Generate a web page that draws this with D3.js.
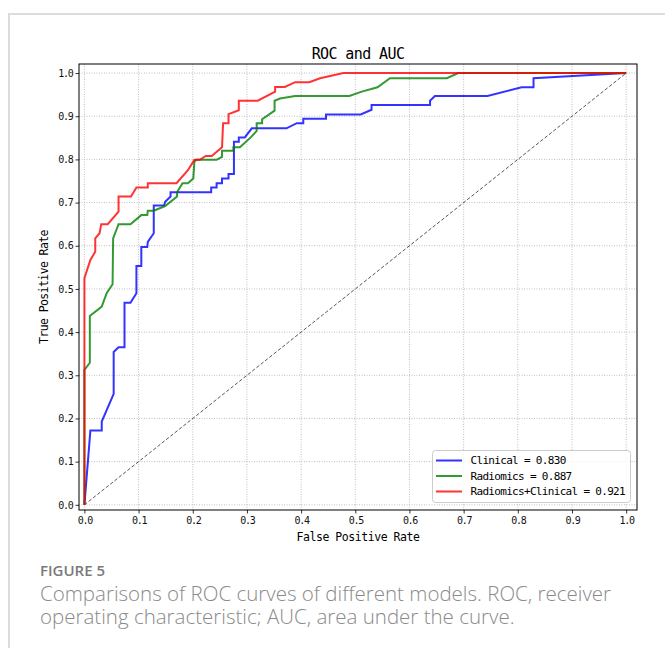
<!DOCTYPE html>
<html>
<head>
<meta charset="utf-8">
<script src="https://cdn.jsdelivr.net/npm/d3@7"></script>
<style>
  body { margin: 0; background: #fff; }
  .mono { font-family: "DejaVu Sans Mono", monospace; }
</style>
</head>
<body>
<svg id="chart" width="665" height="648"></svg>
<script>
// ROC points
const clinicalFpr = [0, 0.011, 0.032, 0.032, 0.054, 0.054, 0.063, 0.074, 0.074, 0.085, 0.096, 0.096, 0.105, 0.105, 0.116, 0.117, 0.128, 0.128, 0.147, 0.149, 0.159, 0.159, 0.234, 0.234, 0.244, 0.244, 0.254, 0.254, 0.266, 0.266, 0.276, 0.276, 0.285, 0.285, 0.296, 0.309, 0.373, 0.392, 0.404, 0.404, 0.446, 0.446, 0.510, 0.530, 0.530, 0.638, 0.638, 0.647, 0.744, 0.807, 0.829, 0.829, 1.0];
const clinicalTpr = [0, 0.172, 0.172, 0.193, 0.257, 0.354, 0.365, 0.365, 0.468, 0.468, 0.490, 0.553, 0.553, 0.597, 0.597, 0.609, 0.629, 0.693, 0.693, 0.702, 0.714, 0.724, 0.724, 0.735, 0.735, 0.745, 0.745, 0.756, 0.756, 0.766, 0.766, 0.841, 0.841, 0.851, 0.851, 0.872, 0.872, 0.884, 0.884, 0.894, 0.894, 0.904, 0.904, 0.915, 0.926, 0.926, 0.936, 0.947, 0.947, 0.967, 0.967, 0.988, 1.0];

const radiomicsFpr = [0, 0, 0.010, 0.010, 0.032, 0.041, 0.052, 0.053, 0.063, 0.085, 0.105, 0.116, 0.117, 0.128, 0.149, 0.171, 0.171, 0.181, 0.191, 0.201, 0.203, 0.207, 0.244, 0.254, 0.254, 0.275, 0.275, 0.287, 0.307, 0.318, 0.318, 0.328, 0.328, 0.351, 0.351, 0.361, 0.389, 0.489, 0.512, 0.541, 0.564, 0.669, 0.690, 1.0];
const radiomicsTpr = [0, 0.3125, 0.329, 0.4375, 0.459, 0.490, 0.511, 0.617, 0.650, 0.650, 0.671, 0.671, 0.681, 0.681, 0.692, 0.714, 0.724, 0.745, 0.745, 0.756, 0.795, 0.799, 0.799, 0.806, 0.820, 0.820, 0.828, 0.828, 0.851, 0.866, 0.884, 0.884, 0.893, 0.913, 0.936, 0.941, 0.947, 0.947, 0.957, 0.967, 0.988, 0.988, 1.0, 1.0];

const combinedFpr = [0, 0, 0.011, 0.020, 0.020, 0.028, 0.031, 0.043, 0.063, 0.063, 0.086, 0.096, 0.117, 0.117, 0.170, 0.191, 0.203, 0.213, 0.224, 0.235, 0.254, 0.256, 0.266, 0.266, 0.285, 0.285, 0.320, 0.352, 0.352, 0.370, 0.389, 0.415, 0.435, 0.478, 1.0];
const combinedTpr = [0, 0.525, 0.567, 0.586, 0.617, 0.629, 0.650, 0.650, 0.679, 0.714, 0.714, 0.735, 0.735, 0.745, 0.745, 0.775, 0.799, 0.799, 0.808, 0.808, 0.828, 0.884, 0.884, 0.905, 0.914, 0.936, 0.936, 0.957, 0.968, 0.968, 0.979, 0.979, 0.988, 1.0, 1.0];

const seriesNames = ["Clinical", "Radiomics", "Radiomics+Clinical"];
const aucValues = [0.830, 0.887, 0.921];
const tickValues = [0, 0.1, 0.2, 0.3, 0.4, 0.5, 0.6, 0.7, 0.8, 0.9, 1.0];

const colors = ["#0000ff", "#008000", "#ff0000"];

const svg = d3.select("#chart");

// card border
svg.append("path")
    .attr("d", "M9,648 V14 H665")
    .attr("fill", "none")
    .attr("stroke", "#dcdcdc")
    .attr("stroke-width", 2);

const plotLeft = 79, plotRight = 637, plotTop = 64, plotBottom = 510;

const x = d3.scaleLinear().domain([-0.01, 1.02]).range([plotLeft, plotRight]);
const y = d3.scaleLinear().domain([-0.012, 1.021]).range([plotBottom, plotTop]);

// grid
const grid = svg.append("g")
    .attr("stroke", "#b8b8b8")
    .attr("stroke-width", 0.9)
    .attr("stroke-dasharray", "1,1.5");
grid.selectAll(".gx").data(tickValues).join("line")
    .attr("x1", d => x(d)).attr("x2", d => x(d))
    .attr("y1", plotTop).attr("y2", plotBottom);
grid.selectAll(".gy").data(tickValues).join("line")
    .attr("y1", d => y(d)).attr("y2", d => y(d))
    .attr("x1", plotLeft).attr("x2", plotRight);

// chance diagonal
svg.append("line")
    .attr("x1", x(0)).attr("y1", y(0))
    .attr("x2", x(1)).attr("y2", y(1))
    .attr("stroke", "#444")
    .attr("stroke-width", 0.9)
    .attr("stroke-dasharray", "3.5,2");

const line = d3.line().x(d => x(d[0])).y(d => y(d[1]));

const series = [
    d3.zip(clinicalFpr, clinicalTpr),
    d3.zip(radiomicsFpr, radiomicsTpr),
    d3.zip(combinedFpr, combinedTpr)
];

svg.append("g").selectAll("path")
    .data(series)
    .join("path")
    .attr("d", line)
    .attr("fill", "none")
    .attr("stroke", (d, i) => colors[i])
    .attr("stroke-opacity", 0.8)
    .attr("stroke-width", 2)
    .attr("stroke-linejoin", "miter");

// frame
svg.append("rect")
    .attr("x", plotLeft).attr("y", plotTop)
    .attr("width", plotRight - plotLeft).attr("height", plotBottom - plotTop)
    .attr("fill", "none")
    .attr("stroke", "#000")
    .attr("stroke-width", 1);

const fmt = d3.format(".1f");

svg.append("g")
    .attr("transform", `translate(0,${plotBottom})`)
    .call(d3.axisBottom(x).tickValues(tickValues).tickFormat(fmt).tickSize(3.5).tickPadding(3))
    .call(g => g.select(".domain").remove());

svg.append("g")
    .attr("transform", `translate(${plotLeft},0)`)
    .call(d3.axisLeft(y).tickValues(tickValues).tickFormat(fmt).tickSize(3.5).tickPadding(3))
    .call(g => g.select(".domain").remove());

svg.selectAll(".tick text")
    .attr("class", "mono")
    .attr("font-size", 10)
    .attr("letter-spacing", -1.3)
    .attr("fill", "#111");
svg.selectAll(".tick line").attr("stroke", "#000").attr("stroke-width", 0.8);

// title and axis labels
svg.append("text")
    .attr("class", "mono")
    .attr("x", (plotLeft + plotRight) / 2)
    .attr("y", 59)
    .attr("text-anchor", "middle")
    .attr("font-size", 15)
    .attr("letter-spacing", -0.6)
    .text("ROC and AUC");

svg.append("text")
    .attr("class", "mono")
    .attr("x", (plotLeft + plotRight) / 2)
    .attr("y", 541)
    .attr("text-anchor", "middle")
    .attr("font-size", 11.5)
    .attr("letter-spacing", -0.45)
    .text("False Positive Rate");

svg.append("text")
    .attr("class", "mono")
    .attr("transform", `translate(48,${(plotTop + plotBottom) / 2}) rotate(-90)`)
    .attr("text-anchor", "middle")
    .attr("font-size", 11.5)
    .attr("letter-spacing", -0.6)
    .text("True Positive Rate");

// legend
const legend = svg.append("g");
legend.append("rect")
    .attr("x", 432.5).attr("y", 450.5)
    .attr("width", 198).attr("height", 52)
    .attr("rx", 3)
    .attr("fill", "#fff").attr("fill-opacity", 0.8)
    .attr("stroke", "#cccccc");

const rows = legend.selectAll(".row")
    .data(seriesNames)
    .join("g")
    .attr("transform", (d, i) => `translate(436,${460.5 + i * 15.5})`);
rows.append("line")
    .attr("x1", 0).attr("x2", 26)
    .attr("stroke", (d, i) => colors[i])
    .attr("stroke-opacity", 0.8)
    .attr("stroke-width", 2);
rows.append("text")
    .attr("class", "mono")
    .attr("x", 34.5)
    .attr("dy", "0.36em")
    .attr("font-size", 11)
    .attr("letter-spacing", -0.68)
    .text((d, i) => `${d} = ${aucValues[i].toFixed(3)}`);

// caption
svg.append("text")
    .attr("x", 40).attr("y", 576)
    .attr("font-family", "Open Sans")
    .attr("font-weight", 600)
    .attr("font-size", 15)
    .attr("fill", "#7a7a7a")
    .text("FIGURE 5");

const caption = ["Comparisons of ROC curves of different models. ROC, receiver",
    "operating characteristic; AUC, area under the curve."];
svg.append("text")
    .attr("font-family", "Open Sans")
    .attr("font-weight", 300)
    .attr("font-size", 20.5)
    .attr("fill", "#8a8a8a")
    .selectAll("tspan")
    .data(caption)
    .join("tspan")
    .attr("x", 40)
    .attr("y", (d, i) => 601 + i * 22.5)
    .text(d => d);
</script>
</body>
</html>
